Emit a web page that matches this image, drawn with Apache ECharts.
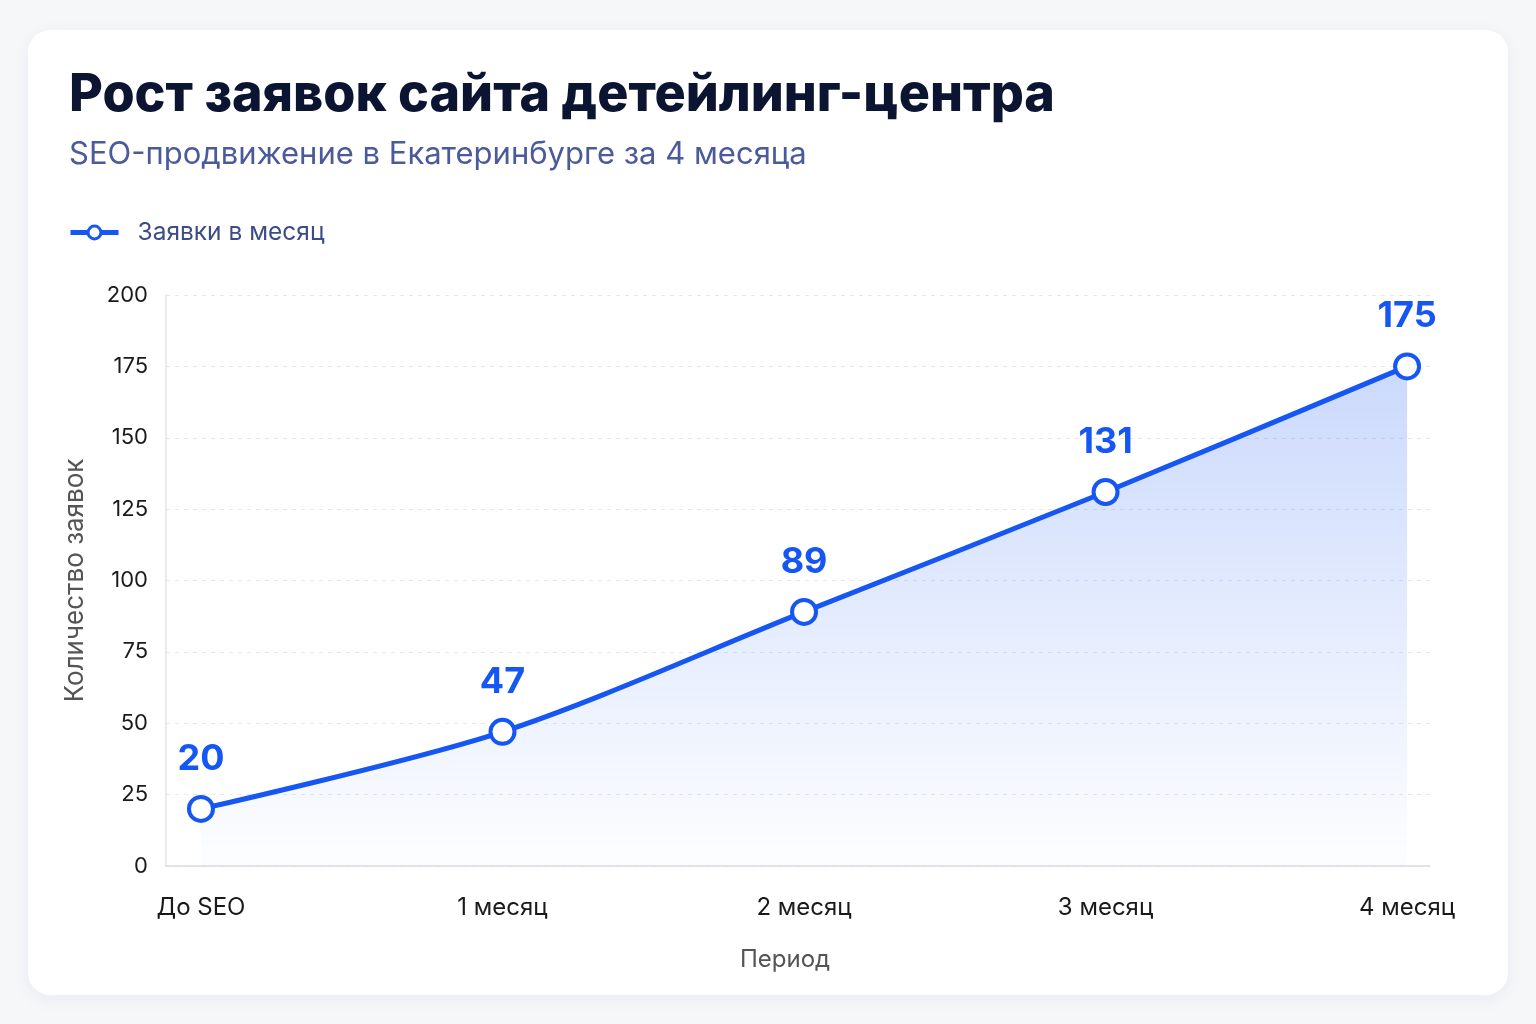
<!DOCTYPE html>
<html>
<head>
<meta charset="utf-8">
<script src="https://cdn.jsdelivr.net/npm/echarts@6/dist/echarts.min.js"></script>
<style>
  html, body { margin: 0; padding: 0; background: #f6f7f9; }
  #card {
    position: absolute; left: 28px; top: 30px; width: 1480px; height: 965px;
    background: #ffffff; border-radius: 22px;
    box-shadow: 0 4px 18px rgba(20, 30, 60, 0.06);
  }
  #chart { position: absolute; left: 0; top: 0; width: 1536px; height: 1024px; }
</style>
</head>
<body>
<div id="card"></div>
<div id="chart"></div>
<script>
// data
const periods = ["До SEO", "1 месяц", "2 месяц", "3 месяц", "4 месяц"];
const requests = [20, 47, 89, 131, 175];

const blue = "#1656f2";

const chart = echarts.init(document.getElementById("chart"), null, { renderer: "canvas" });

const option = {
    backgroundColor: "transparent",
    textStyle: { fontFamily: "Inter, 'Noto Sans', sans-serif" },
    title: {
        text: "Рост заявок сайта детейлинг-центра",
        subtext: "SEO-продвижение в Екатеринбурге за 4 месяца",
        left: 64,
        top: 64,
        itemGap: 18,
        textStyle: { fontSize: 52, fontWeight: 800, color: "#0b1431", fontFamily: "Inter" },
        subtextStyle: { fontSize: 31, color: "#4b5a9a", fontFamily: "Inter" },
    },
    legend: {
        left: 68,
        top: 220,
        padding: 0,
        itemWidth: 48,
        itemHeight: 16,
        textStyle: { fontSize: 24.5, color: "#3e4c85", fontFamily: "Inter", padding: [0, 0, 0, 14] },
        lineStyle: { width: 5 },
        itemStyle: { borderWidth: 3 },
        data: ["Заявки в месяц"],
    },
    grid: { left: 166, right: 106, top: 295, bottom: 158 },
    xAxis: {
        type: "value",
        min: -0.116,
        max: 4.076,
        name: "Период",
        nameLocation: "middle",
        nameGap: 82,
        nameTextStyle: { fontSize: 24, color: "#555", fontFamily: "Inter", padding: [0, 26, 0, 0] },
        axisLine: { show: true, onZero: false, lineStyle: { color: "#d9dbe0", width: 1.5 } },
        axisTick: { show: false },
        splitLine: { show: false },
        axisLabel: {
            customValues: periods.map((p, i) => i),
            formatter: (v) => periods[Math.round(v)] || "",
            fontSize: 24,
            color: "#1a1a1a",
            margin: 30,
            fontFamily: "Inter",
        },
    },
    yAxis: {
        type: "value",
        min: 0,
        max: 200,
        interval: 25,
        name: "Количество заявок",
        nameLocation: "middle",
        nameGap: 78,
        nameTextStyle: { fontSize: 26, color: "#555", fontFamily: "Inter" },
        axisLine: { show: true, onZero: false, lineStyle: { color: "#e2e4e8", width: 1.5 } },
        axisTick: { show: false },
        axisLabel: { fontSize: 22, color: "#1a1a1a", margin: 18, fontFamily: "Inter" },
        splitLine: { show: true, lineStyle: { color: "#e6e8ec", type: [4, 5], width: 1 } },
    },
    series: [
        {
            name: "Заявки в месяц",
            type: "line",
            smooth: 0.3,
            data: requests.map((v, i) => [i, v]),
            symbol: "circle",
            symbolSize: 24,
            lineStyle: { color: blue, width: 5 },
            itemStyle: { color: "#ffffff", borderColor: blue, borderWidth: 4 },
            label: {
                show: true,
                position: "top",
                distance: 18,
                formatter: (p) => p.value[1],
                fontSize: 36,
                fontWeight: 700,
                color: blue,
                fontFamily: "Inter",
            },
            areaStyle: {
                color: new echarts.graphic.LinearGradient(0, 0, 0, 1, [
                    { offset: 0, color: "rgba(22, 86, 242, 0.32)" },
                    { offset: 1, color: "rgba(22, 86, 242, 0.01)" },
                ]),
            },
            z: 3,
        },
    ],
};

chart.setOption(option);
</script>
</body>
</html>
